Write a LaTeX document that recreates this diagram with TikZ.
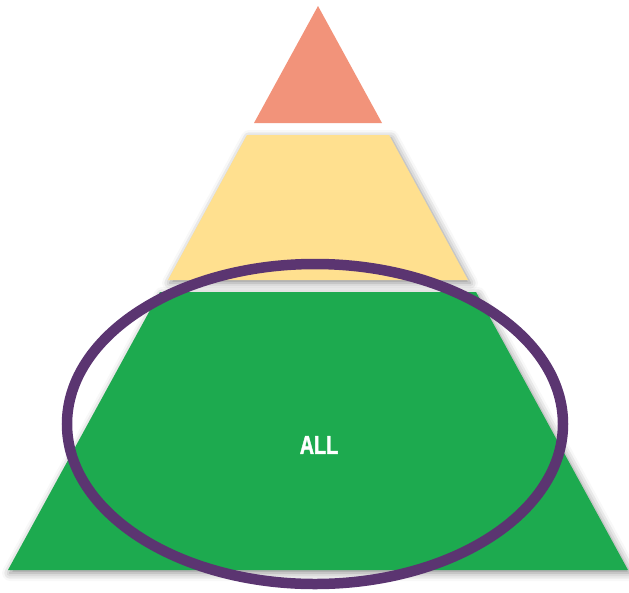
\documentclass[tikz,border=0pt]{standalone}
\usepackage{fontspec}
\setmainfont{Liberation Sans}
\newfontfamily\labelfont{Liberation Sans Bold}[FakeBold=1.8]
\usetikzlibrary{shadows.blur}
\definecolor{topband}{HTML}{F2937A}
\definecolor{midband}{HTML}{FFE08F}
\definecolor{lowband}{HTML}{1DAA4F}
\definecolor{ringcol}{HTML}{5B3571}

\begin{document}
\begin{tikzpicture}[x=1pt,y=-1pt,
  bandshadow/.style={blur shadow={shadow xshift=2pt,shadow yshift=-3pt,shadow blur radius=8pt,shadow opacity=45}},
  ring/.style={draw=ringcol,line width=10.5pt}]
\useasboundingbox (0,0) rectangle (629,592);
% pyramid, apex (318,6), half width 0.55 per unit of depth
\fill[topband] (318,6)--(382,123)--(254,123)--cycle;
\fill[midband,bandshadow] (247,135)--(389,135)--(468,280)--(168,280)--cycle;
\fill[lowband,bandshadow] (160,292)--(476,292)--(628,570)--(8,570)--cycle;
\node[text=white,font=\labelfont\fontsize{26}{26}\selectfont,xscale=.76] (all) at (319,445){ALL};
% ring round the base
\draw[ring] (315,424) ellipse [x radius=248,y radius=160];
\end{tikzpicture}
\end{document}
